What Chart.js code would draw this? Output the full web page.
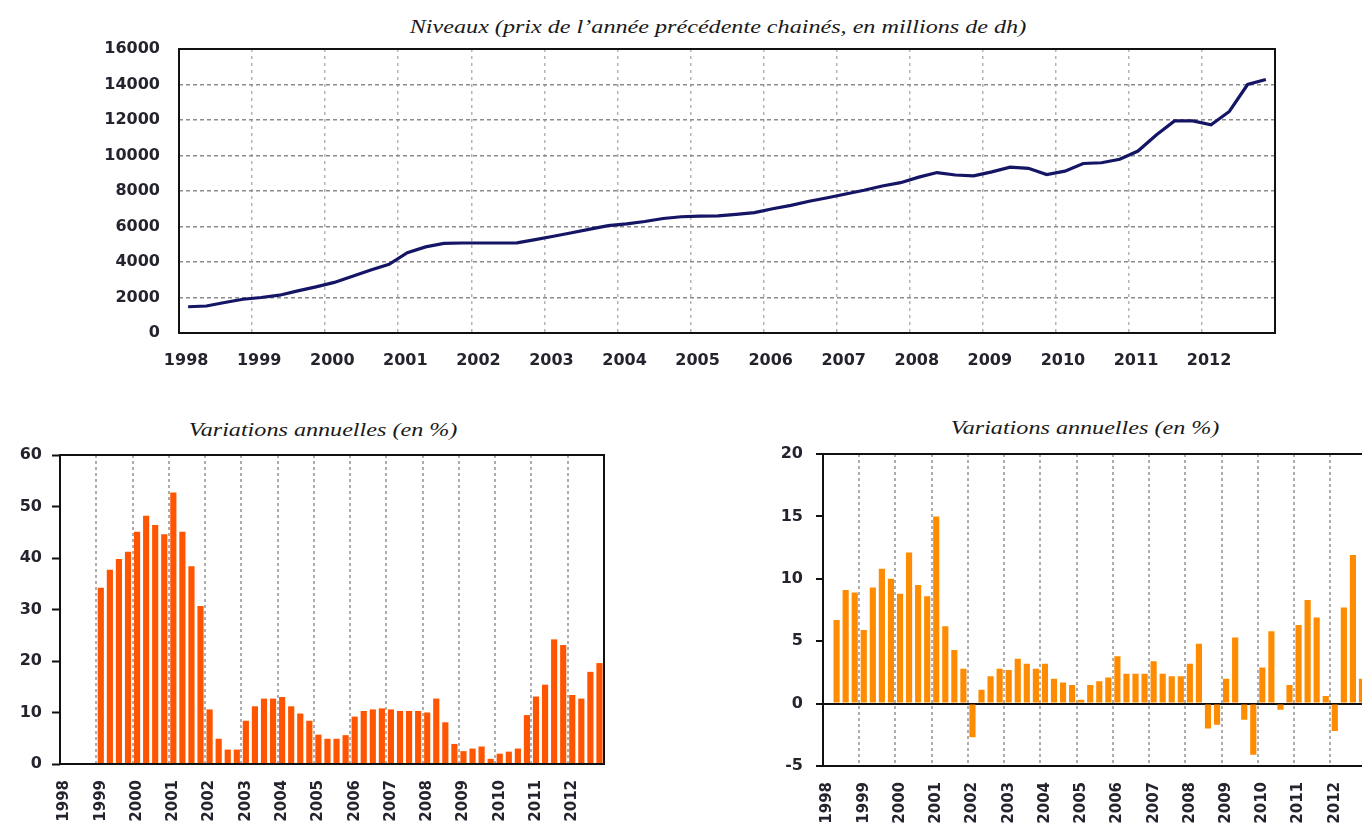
<!DOCTYPE html>
<html lang="fr">
<head>
<meta charset="UTF-8">
<title>Niveaux et variations</title>
<script src="https://cdn.jsdelivr.net/npm/chart.js"></script>
<style>
    body { margin: 0; width: 1362px; height: 823px; overflow: hidden; background: #fff; position: relative; }
    .box { position: absolute; }
    .titre {
        position: absolute;
        font-family: 'Liberation Serif', serif;
        font-style: italic;
        font-size: 19px;
        line-height: 22px;
        color: #1a1a1a;
        white-space: nowrap;
        transform: translateX(-50%) scaleX(1.27);
    }
</style>
</head>
<body>
<div class="titre" style="left:718px; top:16px">Niveaux (prix de l’année précédente chainés, en millions de dh)</div>
<div class="box" style="left:0; top:0; width:1362px; height:390px"><canvas id="niveaux"></canvas></div>

<div class="titre" style="left:323px; top:419px">Variations annuelles (en %)</div>
<div class="box" style="left:0; top:400px; width:640px; height:423px"><canvas id="glissement"></canvas></div>

<div class="titre" style="left:1085px; top:417px">Variations annuelles (en %)</div>
<div class="box" style="left:760px; top:400px; width:640px; height:423px"><canvas id="trimestre"></canvas></div>

<script>
    const annees = ['1998', '1999', '2000', '2001', '2002', '2003', '2004', '2005',
        '2006', '2007', '2008', '2009', '2010', '2011', '2012'];
    const trimestres = annees.flatMap(a => ['T1', 'T2', 'T3', 'T4'].map(t => t + ' ' + a));

    // niveaux trimestriels, millions de dh
    const niveaux = [
        1480, 1520, 1720, 1900,
        2000, 2130, 2370, 2600,
        2850, 3200, 3550, 3870,
        4520, 4850, 5050, 5070,
        5070, 5070, 5080, 5260,
        5450, 5650, 5850, 6050,
        6150, 6280, 6450, 6550,
        6580, 6600, 6680, 6780,
        7000, 7190, 7420, 7620,
        7830, 8040, 8280, 8470,
        8780, 9040, 8900, 8850,
        9080, 9340, 9280, 8930,
        9120, 9550, 9590, 9790,
        10250, 11150, 11950, 11950,
        11730, 12480, 14000, 14280
    ];

    // glissement annuel (%)
    const variationsAnnuelles = [
        null, null, null, null,
        34.2, 37.7, 39.8, 41.2,
        45.1, 48.2, 46.4, 44.6,
        52.7, 45.1, 38.4, 30.7,
        10.6, 4.9, 2.8, 2.8,
        8.4, 11.2, 12.7, 12.7,
        13.0, 11.2, 9.8, 8.4,
        5.7, 4.9, 4.9, 5.6,
        9.2, 10.3, 10.6, 10.8,
        10.6, 10.3, 10.3, 10.3,
        10.0, 12.7, 8.1, 3.9,
        2.5, 3.0, 3.4, 1.0,
        2.0, 2.4, 3.0, 9.5,
        13.1, 15.4, 24.2, 23.1,
        13.4, 12.7, 17.9, 19.6
    ];

    // variation d'un trimestre a l'autre (%)
    const variationsTrimestrielles = [
        null, 6.7, 9.1, 8.9,
        5.9, 9.3, 10.8, 10.0,
        8.8, 12.1, 9.5, 8.6,
        15.0, 6.2, 4.3, 2.8,
        -2.7, 1.1, 2.2, 2.8,
        2.7, 3.6, 3.2, 2.8,
        3.2, 2.0, 1.7, 1.5,
        0.3, 1.5, 1.8, 2.1,
        3.8, 2.4, 2.4, 2.4,
        3.4, 2.4, 2.2, 2.2,
        3.2, 4.8, -2.0, -1.7,
        2.0, 5.3, -1.3, -4.1,
        2.9, 5.8, -0.5, 1.5,
        6.3, 8.3, 6.9, 0.6,
        -2.2, 7.7, 11.9, 2.0
    ];

    const couleurTexte = '#24242e';
    const policeTicks = { family: 'DejaVu Sans', weight: 'bold', size: 16 };
    const policeVerticale = { family: 'DejaVu Sans', weight: 'bold', size: 15 };

    const labelAnnee = (v, i) => i % 4 === 0 ? annees[i / 4] : '';
    const grilleAnnee = couleur => c => (c.index > 0 && c.index % 4 === 0) ? couleur : 'transparent';
    const nombreBrut = v => String(v);

    // cadre noir autour de la zone de trace
    const cadre = {
        id: 'cadre',
        afterDatasetsDraw(chart) {
            const {ctx, chartArea: a} = chart;
            ctx.save();
            ctx.strokeStyle = '#111';
            ctx.lineWidth = 2;
            ctx.strokeRect(a.left, a.top, a.right - a.left, a.bottom - a.top);
            ctx.restore();
        }
    };

    const base = {
        responsive: true,
        maintainAspectRatio: false,
        animation: false,
        plugins: { legend: { display: false }, tooltip: { enabled: false } }
    };

    new Chart(document.getElementById('niveaux'), {
        type: 'line',
        data: {
            labels: trimestres,
            datasets: [{
                data: niveaux,
                borderColor: '#151565',
                borderWidth: 3.2,
                pointRadius: 0,
                tension: 0
            }]
        },
        options: {
            ...base,
            layout: { padding: { top: 49, right: 87, left: 0, bottom: 0 } },
            scales: {
                x: {
                    offset: true,
                    grid: { offset: true, drawTicks: false, lineWidth: 1.5, color: grilleAnnee('#b4b4b4') },
                    border: { display: false, dash: [3, 4] },
                    ticks: {
                        autoSkip: false, maxRotation: 0, minRotation: 0,
                        padding: 18, labelOffset: -2,
                        color: couleurTexte, font: policeTicks,
                        callback: labelAnnee
                    },
                    afterFit: s => { s.height = 57; }
                },
                y: {
                    min: 0, max: 16000,
                    grid: { drawTicks: false, lineWidth: 1.5, color: '#8c8c8c' },
                    border: { display: false, dash: [4, 3] },
                    ticks: { stepSize: 2000, padding: 19, color: couleurTexte, font: policeTicks, callback: nombreBrut },
                    afterFit: s => { s.width = 179; }
                }
            }
        },
        plugins: [cadre]
    });

    new Chart(document.getElementById('glissement'), {
        type: 'bar',
        data: {
            labels: trimestres,
            datasets: [{
                data: variationsAnnuelles,
                backgroundColor: '#ff5500',
                barPercentage: 0.68,
                categoryPercentage: 1
            }]
        },
        options: {
            ...base,
            layout: { padding: { top: 55, right: 36, left: 0, bottom: 0 } },
            scales: {
                x: {
                    grid: { offset: true, drawTicks: false, lineWidth: 2, color: grilleAnnee('#adadad') },
                    border: { display: false, dash: [3, 3] },
                    ticks: {
                        autoSkip: false, minRotation: 90, maxRotation: 90,
                        padding: 16, color: couleurTexte, font: policeVerticale,
                        callback: labelAnnee
                    },
                    afterFit: s => { s.height = 59; }
                },
                y: {
                    min: 0, max: 60,
                    grid: { drawOnChartArea: false, drawTicks: true, tickLength: 8, tickColor: '#111', tickWidth: 2 },
                    border: { display: false },
                    ticks: { stepSize: 10, padding: 10, color: couleurTexte, font: policeTicks, callback: nombreBrut },
                    afterFit: s => { s.width = 60; }
                }
            }
        },
        plugins: [cadre]
    });

    new Chart(document.getElementById('trimestre'), {
        type: 'bar',
        data: {
            labels: trimestres,
            datasets: [{
                data: variationsTrimestrielles,
                backgroundColor: '#ff8c00',
                barPercentage: 0.68,
                categoryPercentage: 1
            }]
        },
        options: {
            ...base,
            layout: { padding: { top: 54, right: 33.5, left: 0, bottom: 0 } },
            scales: {
                x: {
                    grid: { offset: true, drawTicks: false, lineWidth: 2, color: grilleAnnee('#adadad') },
                    border: { display: false, dash: [3, 3] },
                    ticks: {
                        autoSkip: false, minRotation: 90, maxRotation: 90,
                        padding: 16, color: couleurTexte, font: policeVerticale,
                        callback: labelAnnee
                    },
                    afterFit: s => { s.height = 57; }
                },
                y: {
                    min: -5, max: 20,
                    z: 1,
                    grid: {
                        drawTicks: true, tickLength: 7, tickColor: '#111', tickWidth: 2,
                        lineWidth: 2,
                        color: c => (c.tick && c.tick.value === 0) ? '#111' : 'transparent'
                    },
                    border: { display: false },
                    ticks: { stepSize: 5, padding: 13, color: couleurTexte, font: policeTicks, callback: nombreBrut },
                    afterFit: s => { s.width = 63; }
                }
            }
        },
        plugins: [cadre]
    });
</script>
</body>
</html>
